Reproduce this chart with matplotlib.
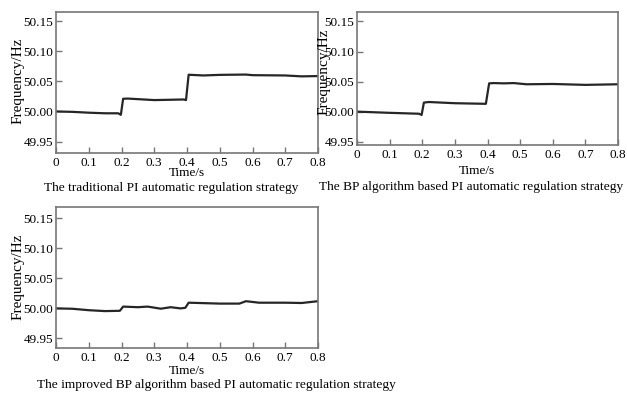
import matplotlib
matplotlib.use("Agg")
import matplotlib.pyplot as plt

plt.rcParams['font.family'] = ['Liberation Serif', 'DejaVu Serif']

# ---- data ----
t1 = [0.0, 0.05, 0.1, 0.15, 0.19, 0.198, 0.205, 0.22, 0.3, 0.39, 0.397, 0.405, 0.45, 0.5, 0.58, 0.6, 0.7, 0.75, 0.8]
f1 = [50.000, 49.9994, 49.998, 49.997, 49.997, 49.9945, 50.0212, 50.0215, 50.019, 50.020, 50.019, 50.0612, 50.060, 50.061, 50.0615, 50.0605, 50.060, 50.0585, 50.059]

t2 = [0.0, 0.1, 0.19, 0.198, 0.205, 0.22, 0.3, 0.395, 0.405, 0.42, 0.45, 0.48, 0.52, 0.6, 0.7, 0.8]
f2 = [50.000, 49.998, 49.9965, 49.9945, 50.015, 50.016, 50.014, 50.013, 50.047, 50.0475, 50.047, 50.0475, 50.0455, 50.046, 50.0445, 50.0455]

t3 = [0.0, 0.05, 0.1, 0.15, 0.195, 0.205, 0.25, 0.28, 0.32, 0.35, 0.38, 0.395, 0.405, 0.5, 0.56, 0.58, 0.62, 0.7, 0.75, 0.8]
f3 = [50.000, 49.9994, 49.997, 49.9955, 49.996, 50.003, 50.002, 50.003, 49.9995, 50.002, 50.000, 50.001, 50.0095, 50.008, 50.008, 50.012, 50.0095, 50.0095, 50.009, 50.012]

xticks = [0, 0.1, 0.2, 0.3, 0.4, 0.5, 0.6, 0.7, 0.8]
xticklabels = ['0', '0.1', '0.2', '0.3', '0.4', '0.5', '0.6', '0.7', '0.8']
yticks = [49.95, 50.00, 50.05, 50.10, 50.15]
yticklabels = ['49.95', '50.00', '50.05', '50.10', '50.15']
captions = ["The traditional PI automatic regulation strategy",
            "The BP algorithm based PI automatic regulation strategy",
            "The improved BP algorithm based PI automatic regulation strategy"]
ylabel = "Frequency/Hz"
xlabel = "Time/s"

W, H = 627, 394
fig = plt.figure(figsize=(W / 100, H / 100), dpi=100)

def px_axes(l, t, r, b):
    return fig.add_axes([l / W, 1 - b / H, (r - l) / W, (b - t) / H])

panels = [
    dict(box=(56, 12, 318, 152.5), ylim=(49.9317, 50.1657), t=t1, f=f1,
         ylab=(18, 81), xlab=(187, 173), cap=(171, 188), cap_text=captions[0]),
    dict(box=(357, 12, 618, 145), ylim=(49.9445, 50.1657), t=t2, f=f2,
         ylab=(324, 72), xlab=(477, 171), cap=(471, 187), cap_text=captions[1]),
    dict(box=(56, 207, 318, 348), ylim=(49.934, 50.169), t=t3, f=f3,
         ylab=(18, 277), xlab=(187, 371), cap=(216, 385), cap_text=captions[2]),
]

spine_col = '#777777'
for p in panels:
    l, t, r, b = p['box']
    ax = px_axes(l, t, r, b)
    ax.plot(p['t'], p['f'], color='#262626', lw=1.6)
    ax.set_xlim(0, 0.8)
    ax.set_ylim(*p['ylim'])
    ax.set_xticks(xticks)
    ax.set_xticklabels(xticklabels, fontsize=9.5)
    ax.set_yticks(yticks)
    ax.set_yticklabels(yticklabels, fontsize=9.5)
    ax.tick_params(direction='in', length=4, width=1, color=spine_col, pad=2)
    ax.tick_params(axis='x', pad=3)
    for s in ax.spines.values():
        s.set_color(spine_col)
        s.set_linewidth(1.2)
    fig.text(p['ylab'][0] / W, 1 - p['ylab'][1] / H, ylabel, rotation=90,
             ha='center', va='center', fontsize=11)
    fig.text(p['xlab'][0] / W, 1 - p['xlab'][1] / H, xlabel, ha='center', va='center', fontsize=9.5)
    fig.text(p['cap'][0] / W, 1 - p['cap'][1] / H, p['cap_text'], ha='center', va='center', fontsize=9.6)

fig.savefig('out.png', dpi=100)
